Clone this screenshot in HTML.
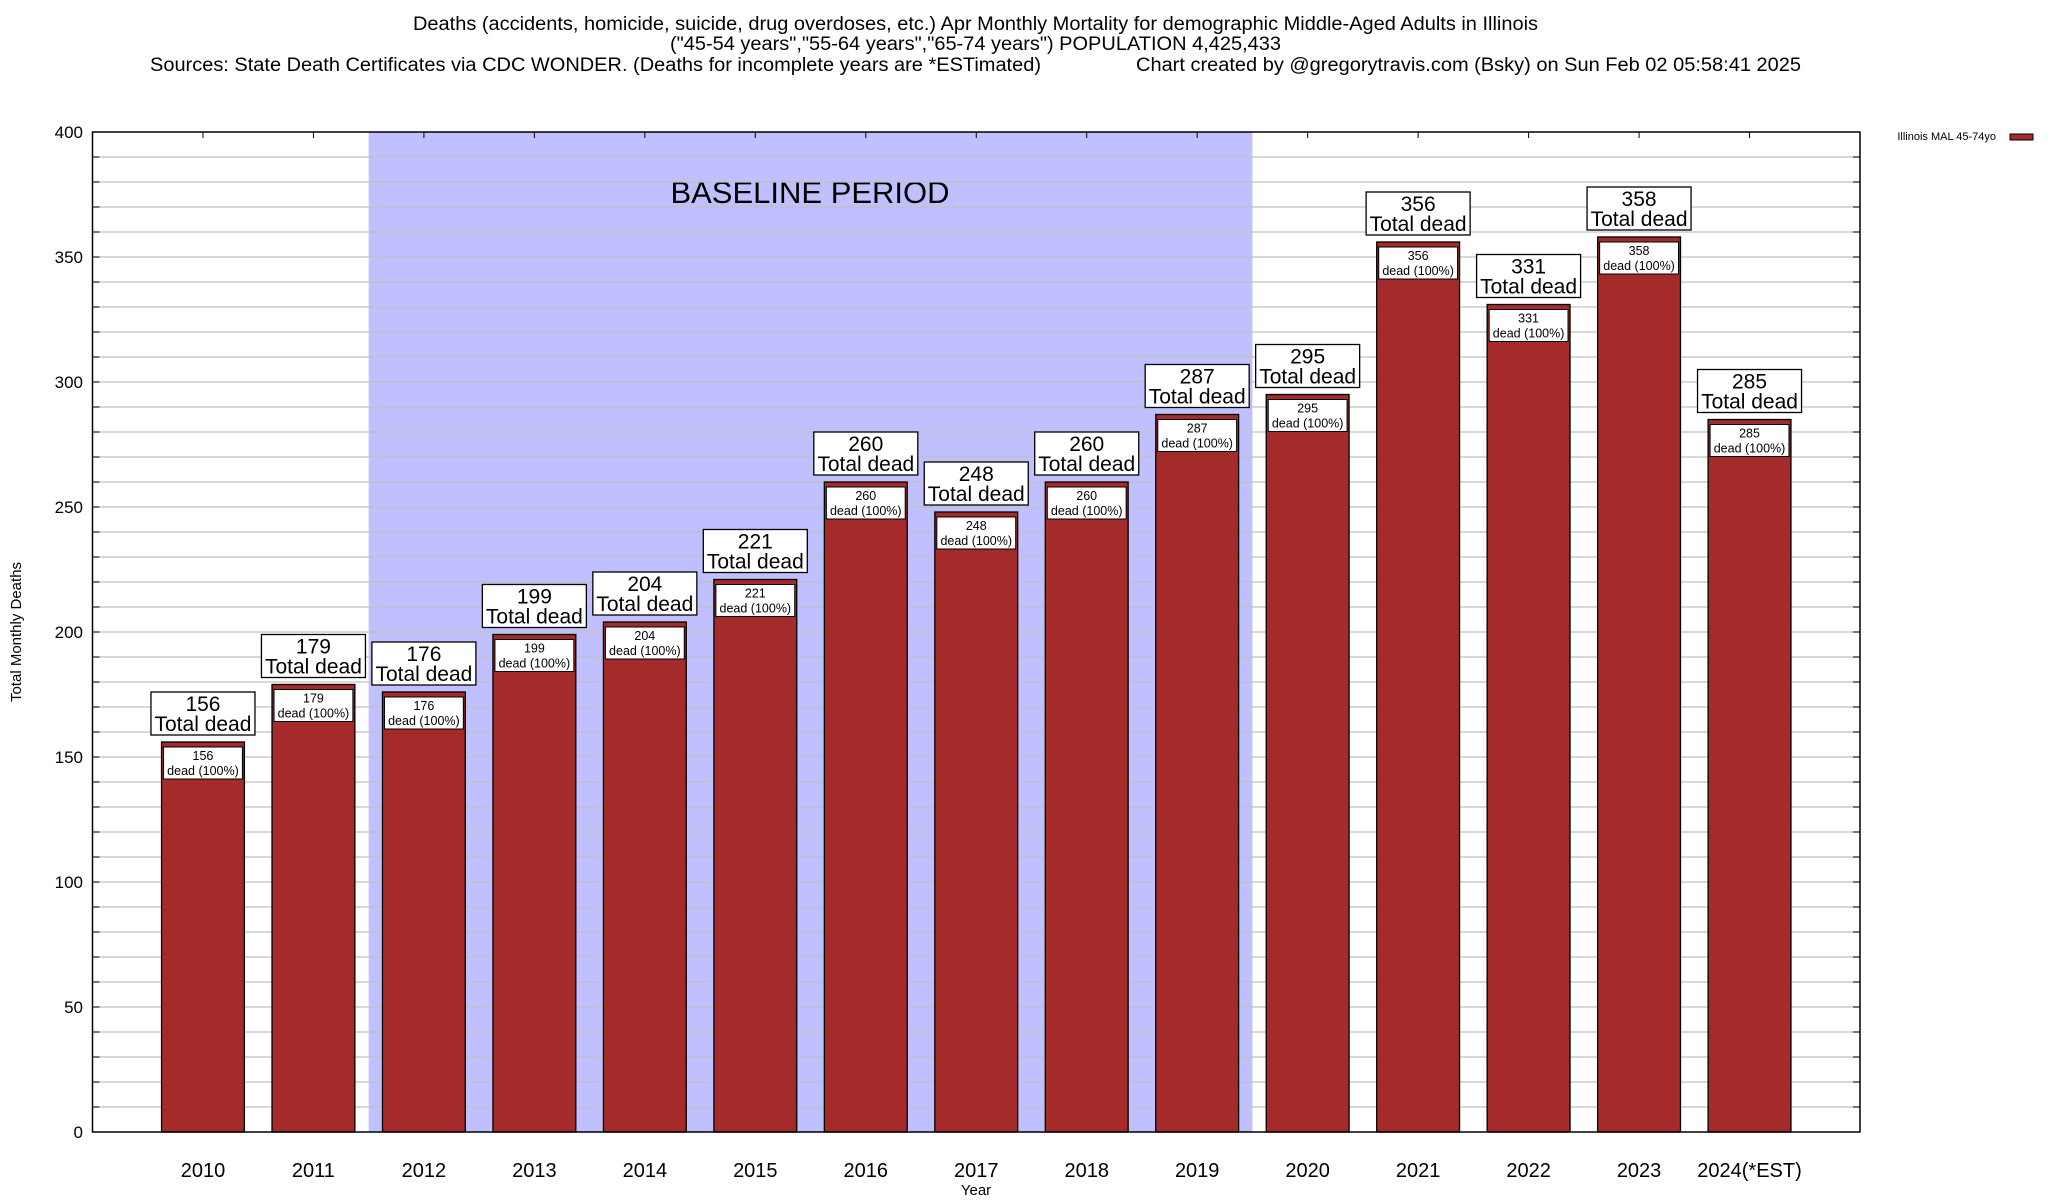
<!DOCTYPE html>
<html><head><meta charset="utf-8"><style>
html,body{margin:0;padding:0;background:#fff}
svg{display:block;font-family:"Liberation Sans",Arial,sans-serif}
</style></head><body>
<svg id="chart" width="2048" height="1200" viewBox="0 0 2048 1200" xmlns="http://www.w3.org/2000/svg">
<g font-size="19" fill="#000">
<text x="413" y="30" textLength="1125" lengthAdjust="spacingAndGlyphs">Deaths (accidents, homicide, suicide, drug overdoses, etc.) Apr Monthly Mortality for demographic Middle-Aged Adults in Illinois</text>
<text x="670" y="50" textLength="611" lengthAdjust="spacingAndGlyphs">("45-54 years","55-64 years","65-74 years") POPULATION 4,425,433</text>
<text x="150" y="71" textLength="891" lengthAdjust="spacingAndGlyphs">Sources: State Death Certificates via CDC WONDER. (Deaths for incomplete years are *ESTimated)</text>
<text x="1136" y="71" textLength="665" lengthAdjust="spacingAndGlyphs">Chart created by @gregorytravis.com (Bsky) on Sun Feb 02 05:58:41 2025</text>
</g>
<g id="plot"></g>
<text font-size="15" text-anchor="middle" transform="translate(21,632) rotate(-90)">Total Monthly Deaths</text>
<text font-size="15" text-anchor="middle" x="976" y="1195">Year</text>
<g>
<text x="1996" y="140" font-size="11" text-anchor="end">Illinois MAL 45-74yo</text>
<rect x="2010" y="134" width="23" height="6" fill="#a52a2a" stroke="#000" stroke-width="1"/>
</g>
</svg>
<script>
const categories = ["2010","2011","2012","2013","2014","2015","2016","2017","2018","2019","2020","2021","2022","2023","2024(*EST)"];
const deaths = [156,179,176,199,204,221,260,248,260,287,295,356,331,358,285];
const yTicks = [0,50,100,150,200,250,300,350,400];
const baselineStart = 2; // index of 2012
const baselineEnd = 9;   // index of 2019

const L=92.5,R=1860,T=132,B=1132,yMax=400;
const slot=(R-L)/16;
const xc=i=>L+(i+1)*slot;
const y=v=>B-(v/yMax)*(B-T);
const NS="http://www.w3.org/2000/svg";
const g=document.getElementById('plot');
function mk(tag,attrs,parent){const e=document.createElementNS(NS,tag);for(const k in attrs)e.setAttribute(k,attrs[k]);(parent||g).appendChild(e);return e;}

// baseline shading
const sh=mk('rect',{x:xc(baselineStart)-slot/2,y:T,width:(baselineEnd-baselineStart+1)*slot,height:B-T,fill:'#c0c0ff'});


const bt=mk('text',{x:810,y:203,'font-size':31,'text-anchor':'middle'});
bt.textContent='BASELINE PERIOD';



// grid
for(let v=10;v<yMax;v+=10){
  const ln=mk('line',{x1:L,x2:R,y1:y(v),y2:y(v),stroke:'#c0c0c0','stroke-width':1.3});
  
  
  mk('line',{x1:L,x2:L+7,y1:y(v),y2:y(v),stroke:'#000','stroke-width':1});
  mk('line',{x1:R-7,x2:R,y1:y(v),y2:y(v),stroke:'#000','stroke-width':1});
}
yTicks.forEach(v=>{
  const t=mk('text',{x:83,y:y(v)+6,'font-size':17,'text-anchor':'end'});
  t.textContent=v;
  
  
});

// bars
const bw=slot*0.75;
categories.forEach((c,i)=>{
  const v=deaths[i],x=xc(i),yt=y(v);
  const bar=mk('rect',{x:x-bw/2,y:yt,width:bw,height:B-yt,fill:'#a52a2a',stroke:'#000','stroke-width':1.3});
  
  
  const ib=mk('rect',{x:x-bw/2+2,y:yt+5,width:bw-4,height:32,fill:'#fff',stroke:'#000','stroke-width':1});
  
  
  const t1=mk('text',{x:x,y:yt+18,'font-size':12.5,'text-anchor':'middle'});t1.textContent=v;
  const t2=mk('text',{x:x,y:yt+33,'font-size':12.5,'text-anchor':'middle'});t2.textContent='dead (100%)';
  const tb=mk('rect',{x:x-52,y:yt-50,width:104,height:43,fill:'#fff',stroke:'#000','stroke-width':1.3});
  
  
  const t3=mk('text',{x:x,y:yt-31,'font-size':21,'text-anchor':'middle'});t3.textContent=v;
  const t4=mk('text',{x:x,y:yt-11,'font-size':21,'text-anchor':'middle'});t4.textContent='Total dead';
  const xl=mk('text',{x:x,y:1177,'font-size':20,'text-anchor':'middle'});xl.textContent=c;
  
  
  mk('line',{x1:x,x2:x,y1:T,y2:T+6,stroke:'#000','stroke-width':1});
});
const fr=mk('rect',{x:L,y:T,width:R-L,height:B-T,fill:'none',stroke:'#000','stroke-width':1.5});


</script>
</body></html>
